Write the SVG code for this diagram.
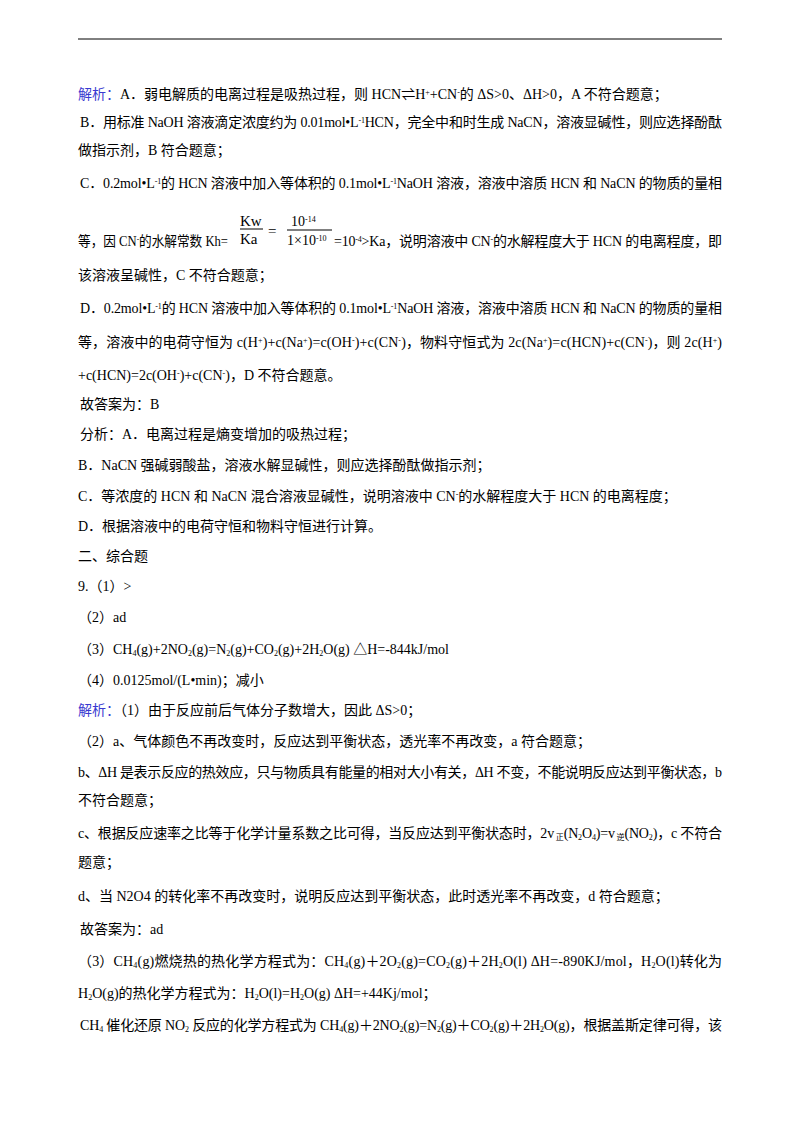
<svg xmlns="http://www.w3.org/2000/svg" width="800" height="1132" viewBox="0 0 800 1132">
<style>
text{font-family:"Liberation Serif","Noto Sans CJK SC",serif;font-size:14px;fill:#000}
.b{fill:#3a3ad0}
.s{font-size:8px;baseline-shift:super}
.d{font-size:8px;baseline-shift:-2px}
.f{font-size:15px}
</style>
<rect width="800" height="1132" fill="#fff"/>
<line x1="78" y1="39" x2="722" y2="39" stroke="#000" stroke-width="1"/>
<g id="text">
<text x="78" y="99"><tspan class="b">解析：</tspan>A．弱电解质的电离过程是吸热过程，则 HCN⇌H<tspan class="s">+</tspan>+CN<tspan class="s">-</tspan>的 ΔS&gt;0、ΔH&gt;0，A 不符合题意；</text>
<text x="80" y="127" textLength="642" lengthAdjust="spacing">B．用标准 NaOH 溶液滴定浓度约为 0.01mol•L<tspan class="s">-1</tspan>HCN，完全中和时生成 NaCN，溶液显碱性，则应选择酚酞</text>
<text x="78" y="155">做指示剂，B 符合题意；</text>
<text x="80" y="188" textLength="642" lengthAdjust="spacing">C．0.2mol•L<tspan class="s">-1</tspan>的 HCN 溶液中加入等体积的 0.1mol•L<tspan class="s">-1</tspan>NaOH 溶液，溶液中溶质 HCN 和 NaCN 的物质的量相</text>
<text x="78" y="246" textLength="150" lengthAdjust="spacingAndGlyphs">等，因 CN<tspan class="s">-</tspan>的水解常数 Kh=</text>
<text x="240" y="226" class="f">Kw</text>
<line x1="240" y1="229" x2="263" y2="229" stroke="#000"/>
<text x="240" y="244" class="f">Ka</text>
<text x="268" y="236" class="f">=</text>
<text x="291" y="226">10<tspan class="s">-14</tspan></text>
<line x1="287" y1="230" x2="332" y2="230" stroke="#000"/>
<text x="287" y="245">1×10<tspan class="s">-10</tspan></text>
<text x="334" y="246" textLength="388" lengthAdjust="spacing">=10<tspan class="s">-4</tspan>&gt;Ka，说明溶液中 CN<tspan class="s">-</tspan>的水解程度大于 HCN 的电离程度，即</text>
<text x="78" y="280">该溶液呈碱性，C 不符合题意；</text>
<text x="80" y="313" textLength="642" lengthAdjust="spacing">D．0.2mol•L<tspan class="s">-1</tspan>的 HCN 溶液中加入等体积的 0.1mol•L<tspan class="s">-1</tspan>NaOH 溶液，溶液中溶质 HCN 和 NaCN 的物质的量相</text>
<text x="78" y="347" textLength="644" lengthAdjust="spacing">等，溶液中的电荷守恒为 c(H<tspan class="s">+</tspan>)+c(Na<tspan class="s">+</tspan>)=c(OH<tspan class="s">-</tspan>)+c(CN<tspan class="s">-</tspan>)，物料守恒式为 2c(Na<tspan class="s">+</tspan>)=c(HCN)+c(CN<tspan class="s">-</tspan>)，则 2c(H<tspan class="s">+</tspan>)</text>
<text x="78" y="380">+c(HCN)=2c(OH<tspan class="s">-</tspan>)+c(CN<tspan class="s">-</tspan>)，D 不符合题意。</text>
<text x="80" y="409">故答案为：B</text>
<text x="80" y="439">分析：A．电离过程是熵变增加的吸热过程；</text>
<text x="78" y="470">B．NaCN 强碱弱酸盐，溶液水解显碱性，则应选择酚酞做指示剂；</text>
<text x="78" y="501">C．等浓度的 HCN 和 NaCN 混合溶液显碱性，说明溶液中 CN<tspan class="s">-</tspan>的水解程度大于 HCN 的电离程度；</text>
<text x="78" y="531">D．根据溶液中的电荷守恒和物料守恒进行计算。</text>
<text x="78" y="561">二、综合题</text>
<text x="78" y="591">9.（1）&gt;</text>
<text x="78" y="622">（2）ad</text>
<text x="78" y="654">（3）CH<tspan class="d">4</tspan>(g)+2NO<tspan class="d">2</tspan>(g)=N<tspan class="d">2</tspan>(g)+CO<tspan class="d">2</tspan>(g)+2H<tspan class="d">2</tspan>O(g) △H=-844kJ/mol</text>
<text x="78" y="685">（4）0.0125mol/(L•min)；减小</text>
<text x="78" y="715"><tspan class="b">解析：</tspan>（1）由于反应前后气体分子数增大，因此 ΔS&gt;0；</text>
<text x="78" y="746">（2）a、气体颜色不再改变时，反应达到平衡状态，透光率不再改变，a 符合题意；</text>
<text x="78" y="777" textLength="644" lengthAdjust="spacing">b、ΔH 是表示反应的热效应，只与物质具有能量的相对大小有关，ΔH 不变，不能说明反应达到平衡状态，b</text>
<text x="78" y="805">不符合题意；</text>
<text x="78" y="838" textLength="644" lengthAdjust="spacing">c、根据反应速率之比等于化学计量系数之比可得，当反应达到平衡状态时，2v<tspan class="d"> 正</tspan>(N<tspan class="d">2</tspan>O<tspan class="d">4</tspan>)=v<tspan class="d"> 逆</tspan>(NO<tspan class="d">2</tspan>)，c 不符合</text>
<text x="78" y="867">题意；</text>
<text x="78" y="901">d、当 N2O4 的转化率不再改变时，说明反应达到平衡状态，此时透光率不再改变，d 符合题意；</text>
<text x="80" y="934">故答案为：ad</text>
<text x="78" y="966" textLength="644" lengthAdjust="spacing">（3）CH<tspan class="d">4</tspan>(g)燃烧热的热化学方程式为：CH<tspan class="d">4</tspan>(g)＋2O<tspan class="d">2</tspan>(g)=CO<tspan class="d">2</tspan>(g)＋2H<tspan class="d">2</tspan>O(l) ΔH=-890KJ/mol，H<tspan class="d">2</tspan>O(l)转化为</text>
<text x="78" y="998">H<tspan class="d">2</tspan>O(g)的热化学方程式为：H<tspan class="d">2</tspan>O(l)=H<tspan class="d">2</tspan>O(g) ΔH=+44Kj/mol；</text>
<text x="80" y="1030" textLength="642" lengthAdjust="spacing">CH<tspan class="d">4</tspan> 催化还原 NO<tspan class="d">2</tspan> 反应的化学方程式为 CH<tspan class="d">4</tspan>(g)＋2NO<tspan class="d">2</tspan>(g)=N<tspan class="d">2</tspan>(g)＋CO<tspan class="d">2</tspan>(g)＋2H<tspan class="d">2</tspan>O(g)，根据盖斯定律可得，该</text>
</g>
</svg>
